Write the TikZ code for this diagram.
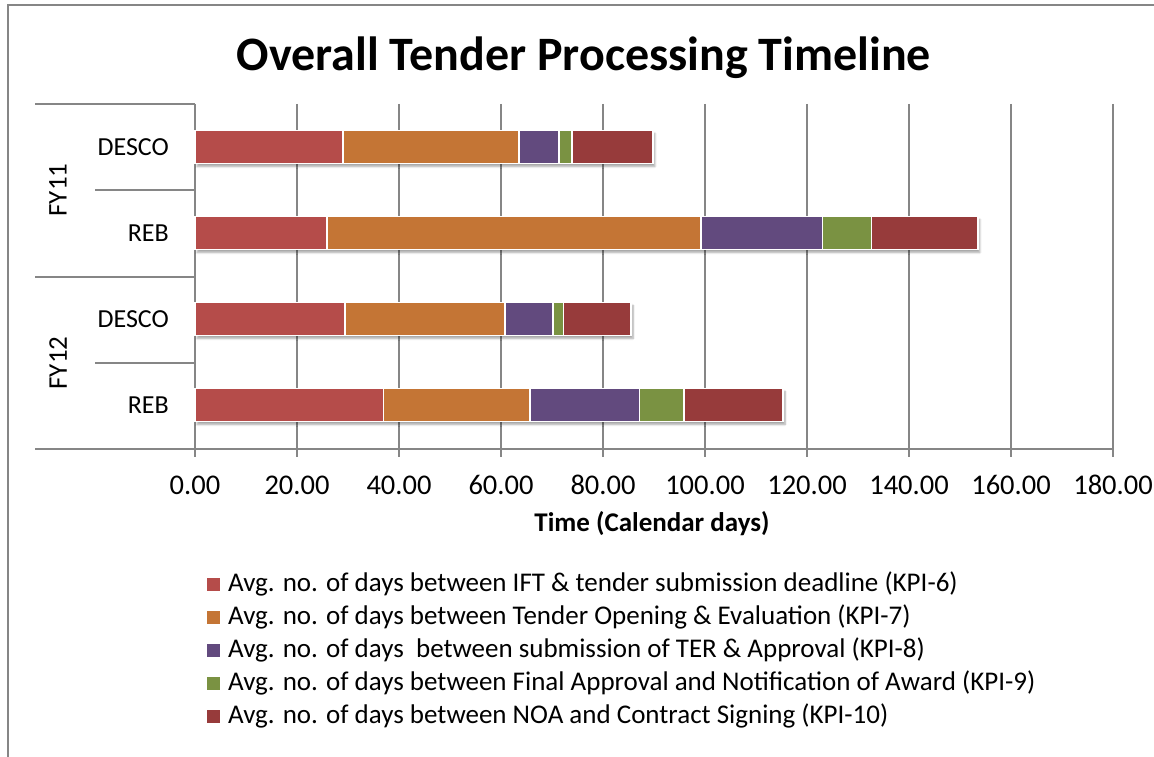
\documentclass[tikz,border=0pt]{standalone}
\usepackage{fontspec}
\setmainfont{Carlito}
\usetikzlibrary{shadows.blur}
\definecolor{kpisix}{RGB}{181,76,74}
\definecolor{kpiseven}{RGB}{196,117,53}
\definecolor{kpieight}{RGB}{98,74,126}
\definecolor{kpinine}{RGB}{122,146,66}
\definecolor{kpiten}{RGB}{151,59,59}
\definecolor{axisgray}{RGB}{134,134,134}
\tikzstyle{gridline}=[draw=axisgray,line width=1.6pt]
\tikzstyle{framel}=[draw=axisgray,line width=1.6pt]
\tikzstyle{barseg}=[draw=white,line width=1.3pt]
\tikzstyle{barshadow}=[fill=white,blur shadow={shadow xshift=2pt,shadow yshift=-3pt,shadow opacity=35,shadow blur steps=6}]
\tikzstyle{ticklabel}=[font=\fontsize{28.5}{32}\selectfont,inner sep=0pt]
\tikzstyle{catlabel}=[font=\fontsize{26}{30}\selectfont,inner sep=0pt,anchor=east]
\tikzstyle{legtext}=[font=\fontsize{27}{31}\selectfont,inner sep=0pt,anchor=west]

\begin{document}
\begin{tikzpicture}[x=1pt,y=-1pt]
    \useasboundingbox (0,0) rectangle (1154,757);
    \draw[framel] (8,757) -- (8,5) -- (1154,5);
    \node[font=\fontsize{48}{54}\selectfont\bfseries] (title) at (584,58) {Overall Tender Processing Timeline};

    % grid and axes
    \foreach \v in {0,20,...,180}
    \draw[gridline] ({195+5.1*\v},104) -- ({195+5.1*\v},457);
    \draw[gridline] (35,449) -- (1113,449);
    \draw[gridline] (35,104) -- (195,104);
    \draw[gridline] (95,190) -- (195,190);
    \draw[gridline] (35,277) -- (195,277);
    \draw[gridline] (95,363) -- (195,363);

    \foreach \v [count=\i] in {0,20,...,180}
    \node[ticklabel] (tick\i) at ({195+5.1*\v},485) {\v.00};
    \node[font=\fontsize{27}{31}\selectfont\bfseries] (xtitle) at (652,524) {Time (Calendar days)};

    \node[catlabel] (desco11) at (169,147) {DESCO};
    \node[catlabel] (reb11) at (169,233) {REB};
    \node[catlabel] (desco12) at (169,319) {DESCO};
    \node[catlabel] (reb12) at (169,405) {REB};
    \node[font=\fontsize{27}{31}\selectfont,rotate=90] (fy11) at (58,190) {FY11};
    \node[font=\fontsize{27}{31}\selectfont,rotate=90] (fy12) at (58,363) {FY12};

    % stacked bars
    \foreach \yc/\a/\b/\c/\d/\e in {147/29.0/63.5/71.4/73.9/89.8,233/25.9/99.2/123.1/132.7/153.5,319/29.4/60.8/70.2/72.2/85.5,405/36.9/65.7/87.1/95.9/115.3}
    {
    \fill[barshadow] (195,\yc-16.5) rectangle ({195+5.1*\e},\yc+16.5);
    \filldraw[barseg,fill=kpisix] (195,\yc-16.5) rectangle ({195+5.1*\a},\yc+16.5);
    \filldraw[barseg,fill=kpiseven] ({195+5.1*\a},\yc-16.5) rectangle ({195+5.1*\b},\yc+16.5);
    \filldraw[barseg,fill=kpieight] ({195+5.1*\b},\yc-16.5) rectangle ({195+5.1*\c},\yc+16.5);
    \filldraw[barseg,fill=kpinine] ({195+5.1*\c},\yc-16.5) rectangle ({195+5.1*\d},\yc+16.5);
    \filldraw[barseg,fill=kpiten] ({195+5.1*\d},\yc-16.5) rectangle ({195+5.1*\e},\yc+16.5);
    }

    % legend
    \foreach \c/\t [count=\i] in {kpisix/{Avg. no. of days between IFT \& tender submission deadline (KPI-6)},
        kpiseven/{Avg. no. of days between Tender Opening \& Evaluation (KPI-7)},
        kpieight/{Avg. no. of days~ between submission of TER \& Approval (KPI-8)},
        kpinine/{Avg. no. of days between Final Approval and Notification of Award (KPI-9)},
        kpiten/{Avg. no. of days between NOA and Contract Signing (KPI-10)}}
    {
    \fill[\c] (207,{584+33*(\i-1)-6.5}) rectangle (220,{584+33*(\i-1)+6.5});
    \node[legtext] (leg\i) at (228,{584+33*(\i-1)}) {\t};
    }
\end{tikzpicture}
\end{document}
